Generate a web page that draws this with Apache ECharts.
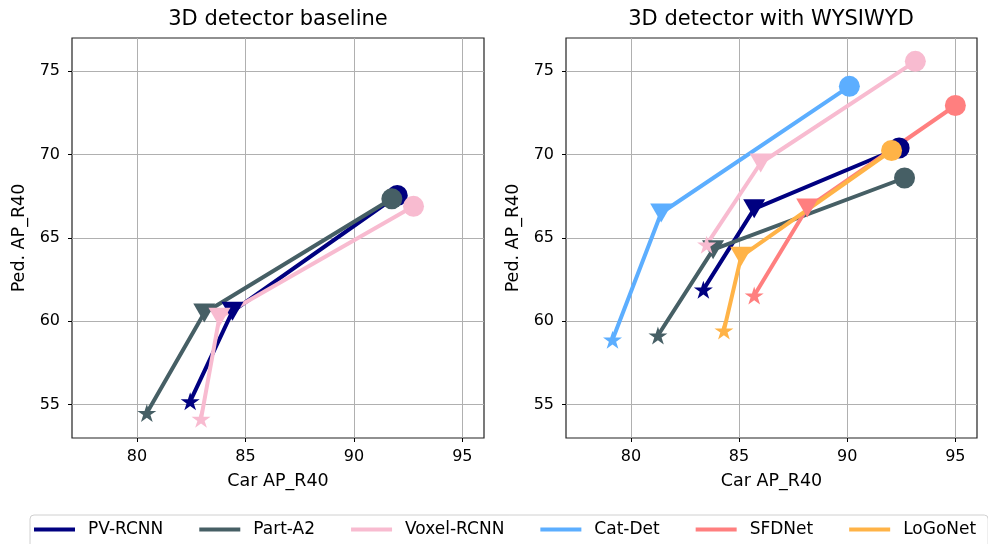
<!DOCTYPE html>
<html>
<head>
<meta charset="utf-8">
<script src="https://cdn.jsdelivr.net/npm/echarts@6/dist/echarts.min.js"></script>
<style>
html,body{margin:0;padding:0;background:#fff;}
#chart{width:988px;height:544px;}
</style>
</head>
<body>
<div id="chart"></div>
<script>
// ---- data ----
const seriesNames = ['PV-RCNN', 'Part-A2', 'Voxel-RCNN', 'Cat-Det', 'SFDNet', 'LoGoNet'];
const panelTitles = ['3D detector baseline', '3D detector with WYSIWYD'];
const xTickValues = [80, 85, 90, 95];
const yTickValues = [55, 60, 65, 70, 75];

// Left panel (baseline): [star, triangle, circle]
const basePVRCNN_x = [82.45, 84.4, 92.0];
const basePVRCNN_y = [55.2, 60.6, 67.55];
const basePartA2_x = [80.45, 83.1, 91.75];
const basePartA2_y = [54.5, 60.5, 67.35];
const baseVoxel_x = [82.95, 83.8, 92.75];
const baseVoxel_y = [54.15, 60.25, 66.9];

// Right panel (with WYSIWYD)
const wPVRCNN_x = [83.35, 85.7, 92.4];
const wPVRCNN_y = [61.9, 66.75, 70.4];
const wPartA2_x = [81.25, 83.8, 92.65];
const wPartA2_y = [59.15, 64.3, 68.6];
const wVoxel_x = [83.5, 86.0, 93.15];
const wVoxel_y = [64.6, 69.5, 75.6];
const wCatDet_x = [79.15, 81.4, 90.1];
const wCatDet_y = [58.9, 66.5, 74.1];
const wSFDNet_x = [85.7, 88.15, 95.0];
const wSFDNet_y = [61.55, 66.8, 72.95];
const wLoGoNet_x = [84.3, 85.1, 92.05];
const wLoGoNet_y = [59.45, 63.9, 70.25];

// ---- styles ----
const colors = {
  'PV-RCNN': '#000080',
  'Part-A2': '#465f65',
  'Voxel-RCNN': '#f8bbd0',
  'Cat-Det': '#5caeff',
  'SFDNet': '#ff7f7f',
  'LoGoNet': '#ffb347'
};
const STAR = 'path://M0,-1 L0.2245,-0.309 L0.951,-0.309 L0.363,0.118 L0.588,0.809 L0,0.382 L-0.588,0.809 L-0.363,0.118 L-0.951,-0.309 L-0.2245,-0.309 Z';
const markerSymbols = [STAR, 'triangle', 'circle'];
const markerSizes = [[19, 18], [22, 19], 21];
const markerRotate = [0, 180, 0];
const FONT = 'DejaVu Sans';

function mkSeries(name, xs, ys, gi) {
  return {
    name: name,
    type: 'line',
    xAxisIndex: gi,
    yAxisIndex: gi,
    color: colors[name],
    lineStyle: { width: 4, color: colors[name] },
    itemStyle: { color: colors[name] },
    animation: false,
    emphasis: { disabled: true },
    data: xs.map((x, i) => ({
      value: [x, ys[i]],
      symbol: markerSymbols[i],
      symbolSize: markerSizes[i],
      symbolRotate: markerRotate[i]
    }))
  };
}

const series = [
  mkSeries('PV-RCNN', basePVRCNN_x, basePVRCNN_y, 0),
  mkSeries('Part-A2', basePartA2_x, basePartA2_y, 0),
  mkSeries('Voxel-RCNN', baseVoxel_x, baseVoxel_y, 0),
  mkSeries('PV-RCNN', wPVRCNN_x, wPVRCNN_y, 1),
  mkSeries('Part-A2', wPartA2_x, wPartA2_y, 1),
  mkSeries('Voxel-RCNN', wVoxel_x, wVoxel_y, 1),
  mkSeries('Cat-Det', wCatDet_x, wCatDet_y, 1),
  mkSeries('SFDNet', wSFDNet_x, wSFDNet_y, 1),
  mkSeries('LoGoNet', wLoGoNet_x, wLoGoNet_y, 1)
];

function xAxis(gi) {
  return {
    type: 'value', gridIndex: gi, min: 77, max: 96, splitNumber: 4,
    name: 'Car AP_R40', nameLocation: 'middle', nameGap: 34,
    nameTextStyle: { fontFamily: FONT, fontSize: 17.5, color: '#000' },
    axisLine: { show: false },
    axisTick: { show: true, length: 4, lineStyle: { color: '#000' }, customValues: xTickValues },
    axisLabel: { fontFamily: FONT, fontSize: 16, color: '#000', margin: 11, customValues: xTickValues },
    splitLine: { show: true, lineStyle: { color: '#b0b0b0', width: 1 } }
  };
}
function yAxis(gi) {
  return {
    type: 'value', gridIndex: gi, min: 53, max: 77, splitNumber: 5,
    name: 'Ped. AP_R40', nameLocation: 'middle', nameGap: 44, nameRotate: 90,
    nameTextStyle: { fontFamily: FONT, fontSize: 17.5, color: '#000' },
    axisLine: { show: false },
    axisTick: { show: true, length: 4, lineStyle: { color: '#000' }, customValues: yTickValues },
    axisLabel: { fontFamily: FONT, fontSize: 16, color: '#000', margin: 12, customValues: yTickValues },
    splitLine: { show: true, lineStyle: { color: '#b0b0b0', width: 1 } }
  };
}

const option = {
  backgroundColor: '#fff',
  animation: false,
  title: [
    { text: panelTitles[0], left: 278, top: 9, textAlign: 'center', padding: 0,
      textStyle: { fontFamily: FONT, fontSize: 21, fontWeight: 'normal', color: '#000' } },
    { text: panelTitles[1], left: 771, top: 9, textAlign: 'center', padding: 0,
      textStyle: { fontFamily: FONT, fontSize: 21, fontWeight: 'normal', color: '#000' } }
  ],
  grid: [
    { left: 72, top: 38, width: 412, height: 400, show: true, borderColor: '#222', borderWidth: 1.2, backgroundColor: 'transparent' },
    { left: 566, top: 38, width: 411, height: 400, show: true, borderColor: '#222', borderWidth: 1.2, backgroundColor: 'transparent' }
  ],
  xAxis: [xAxis(0), xAxis(1)],
  yAxis: [yAxis(0), yAxis(1)],
  legend: {
    data: seriesNames.map(n => ({ name: n, icon: 'rect', itemStyle: { color: colors[n] } })),
    left: 30, top: 515, width: 1100,
    orient: 'horizontal',
    padding: [6, 12, 12, 4],
    itemWidth: 41, itemHeight: 4, itemGap: 36,
    borderColor: '#d0d0d0', borderWidth: 1, borderRadius: 4,
    backgroundColor: '#fff',
    selectedMode: false,
    textStyle: { fontFamily: FONT, fontSize: 17, color: '#000', padding: [0, 0, 0, 8] }
  },
  series: series
};

const chart = echarts.init(document.getElementById('chart'), null, { renderer: 'canvas' });
chart.setOption(option);
</script>
</body>
</html>
